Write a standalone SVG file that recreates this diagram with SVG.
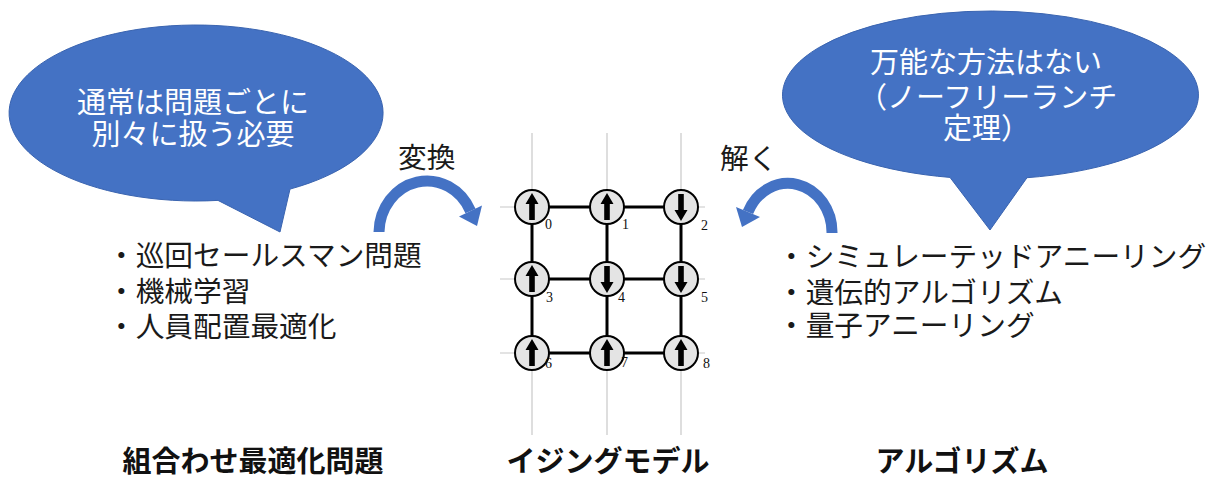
<svg xmlns="http://www.w3.org/2000/svg" xmlns:xlink="http://www.w3.org/1999/xlink" width="1214" height="478" viewBox="0 0 1214 478">
<style>
.jp{font-family:"Noto Sans CJK JP","Noto Sans CJK SC",sans-serif;}
.bub{fill:#4472C4;stroke:#3a64b0;stroke-width:1;}
.bt{fill:#ffffff;font-size:29px;}
.lt{fill:#1a1a1a;font-size:28.7px;}
.hd{fill:#111111;font-size:29px;font-weight:bold;}
.grid{stroke:#c8c8c8;stroke-width:1.2;fill:none;}
.edge{stroke:#000;stroke-width:3;fill:none;}
.site{fill:#e4e4e4;stroke:#000;stroke-width:2;}
.num{font-family:"Liberation Serif",serif;font-size:14px;fill:#111;}
.carc{fill:none;stroke:#4472C4;stroke-width:11;}
.chead{fill:#4472C4;}
</style>
<defs>
<polygon id="up" points="-2.8,13 -2.8,-3 -6.5,-3 0,-14 6.5,-3 2.8,-3 2.8,13" fill="#000"/>
</defs>

<g id="bubble-left">
<path class="bub" d="M 218 200.4 A 187 88 0 1 1 290 189.1 L 280 232 Z"/>
<text class="jp bt" x="193" y="113" text-anchor="middle">通常は問題ごとに</text>
<text class="jp bt" x="193" y="145" text-anchor="middle">別々に扱う必要</text>
</g>

<g id="bubble-right">
<path class="bub" d="M 950 177.4 A 208 84 0 1 1 1027 177.7 L 990 230 Z"/>
<text class="jp bt" x="986" y="73" text-anchor="middle">万能な方法はない</text>
<text class="jp bt" x="858" y="108">（ノーフリーランチ</text>
<text class="jp bt" x="943" y="139">定理）</text>
</g>

<g id="list-left">
<text class="jp lt" x="107" y="266">・巡回セールスマン問題</text>
<text class="jp lt" x="107" y="302">・機械学習</text>
<text class="jp lt" x="107" y="337">・人員配置最適化</text>
</g>

<g id="list-right">
<text class="jp lt" x="777" y="267">・シミュレーテッドアニーリング</text>
<text class="jp lt" x="777" y="303">・遺伝的アルゴリズム</text>
<text class="jp lt" x="777" y="336">・量子アニーリング</text>
</g>

<g id="connectors">
<g id="arrow-henkan">
<path class="carc" d="M 379 232 A 48 52 0 0 1 470.5 211"/>
<polygon class="chead" points="482,205.5 459,216.5 477,226"/>
<text class="jp lt" x="398" y="168" font-size="27">変換</text>
</g>
<g id="arrow-toku">
<path class="carc" d="M 832 233 A 44 49 0 0 0 748 212"/>
<polygon class="chead" points="760,217 736,207 742,227"/>
<text class="jp lt" x="720" y="169" font-size="27">解く</text>
</g>
</g>

<g id="ising-model">
<g class="grid">
<line x1="532" y1="133" x2="532" y2="435"/>
<line x1="607" y1="133" x2="607" y2="435"/>
<line x1="681" y1="133" x2="681" y2="435"/>
<line x1="500" y1="207" x2="705" y2="207"/>
<line x1="500" y1="279" x2="705" y2="279"/>
<line x1="500" y1="353" x2="705" y2="353"/>
</g>
<g class="edge">
<line x1="532" y1="207" x2="681" y2="207"/>
<line x1="532" y1="279" x2="681" y2="279"/>
<line x1="532" y1="353" x2="681" y2="353"/>
<line x1="532" y1="207" x2="532" y2="353"/>
<line x1="607" y1="207" x2="607" y2="353"/>
<line x1="681" y1="207" x2="681" y2="353"/>
</g>
<g id="spin-0"><circle class="site" cx="532" cy="207" r="17"/><use xlink:href="#up" href="#up" transform="translate(532,207)"/><text class="num" x="545" y="229">0</text></g>
<g id="spin-1"><circle class="site" cx="607" cy="207" r="17"/><use xlink:href="#up" href="#up" transform="translate(607,207)"/><text class="num" x="622" y="229">1</text></g>
<g id="spin-2"><circle class="site" cx="681" cy="207" r="17"/><use xlink:href="#up" href="#up" transform="translate(681,207) rotate(180)"/><text class="num" x="701" y="230">2</text></g>
<g id="spin-3"><circle class="site" cx="532" cy="279" r="17"/><use xlink:href="#up" href="#up" transform="translate(532,279)"/><text class="num" x="546" y="302">3</text></g>
<g id="spin-4"><circle class="site" cx="607" cy="279" r="17"/><use xlink:href="#up" href="#up" transform="translate(607,279) rotate(180)"/><text class="num" x="618" y="302">4</text></g>
<g id="spin-5"><circle class="site" cx="681" cy="279" r="17"/><use xlink:href="#up" href="#up" transform="translate(681,279) rotate(180)"/><text class="num" x="701" y="302">5</text></g>
<g id="spin-6"><circle class="site" cx="532" cy="353" r="17"/><use xlink:href="#up" href="#up" transform="translate(532,353)"/><text class="num" x="545" y="368">6</text></g>
<g id="spin-7"><circle class="site" cx="607" cy="353" r="17"/><use xlink:href="#up" href="#up" transform="translate(607,353)"/><text class="num" x="621" y="367">7</text></g>
<g id="spin-8"><circle class="site" cx="681" cy="353" r="17"/><use xlink:href="#up" href="#up" transform="translate(681,353)"/><text class="num" x="703" y="368">8</text></g>
</g>

<g id="headings">
<text class="jp hd" x="253" y="472" text-anchor="middle">組合わせ最適化問題</text>
<text class="jp hd" x="608" y="472" text-anchor="middle">イジングモデル</text>
<text class="jp hd" x="962" y="472" text-anchor="middle">アルゴリズム</text>
</g>
</svg>
